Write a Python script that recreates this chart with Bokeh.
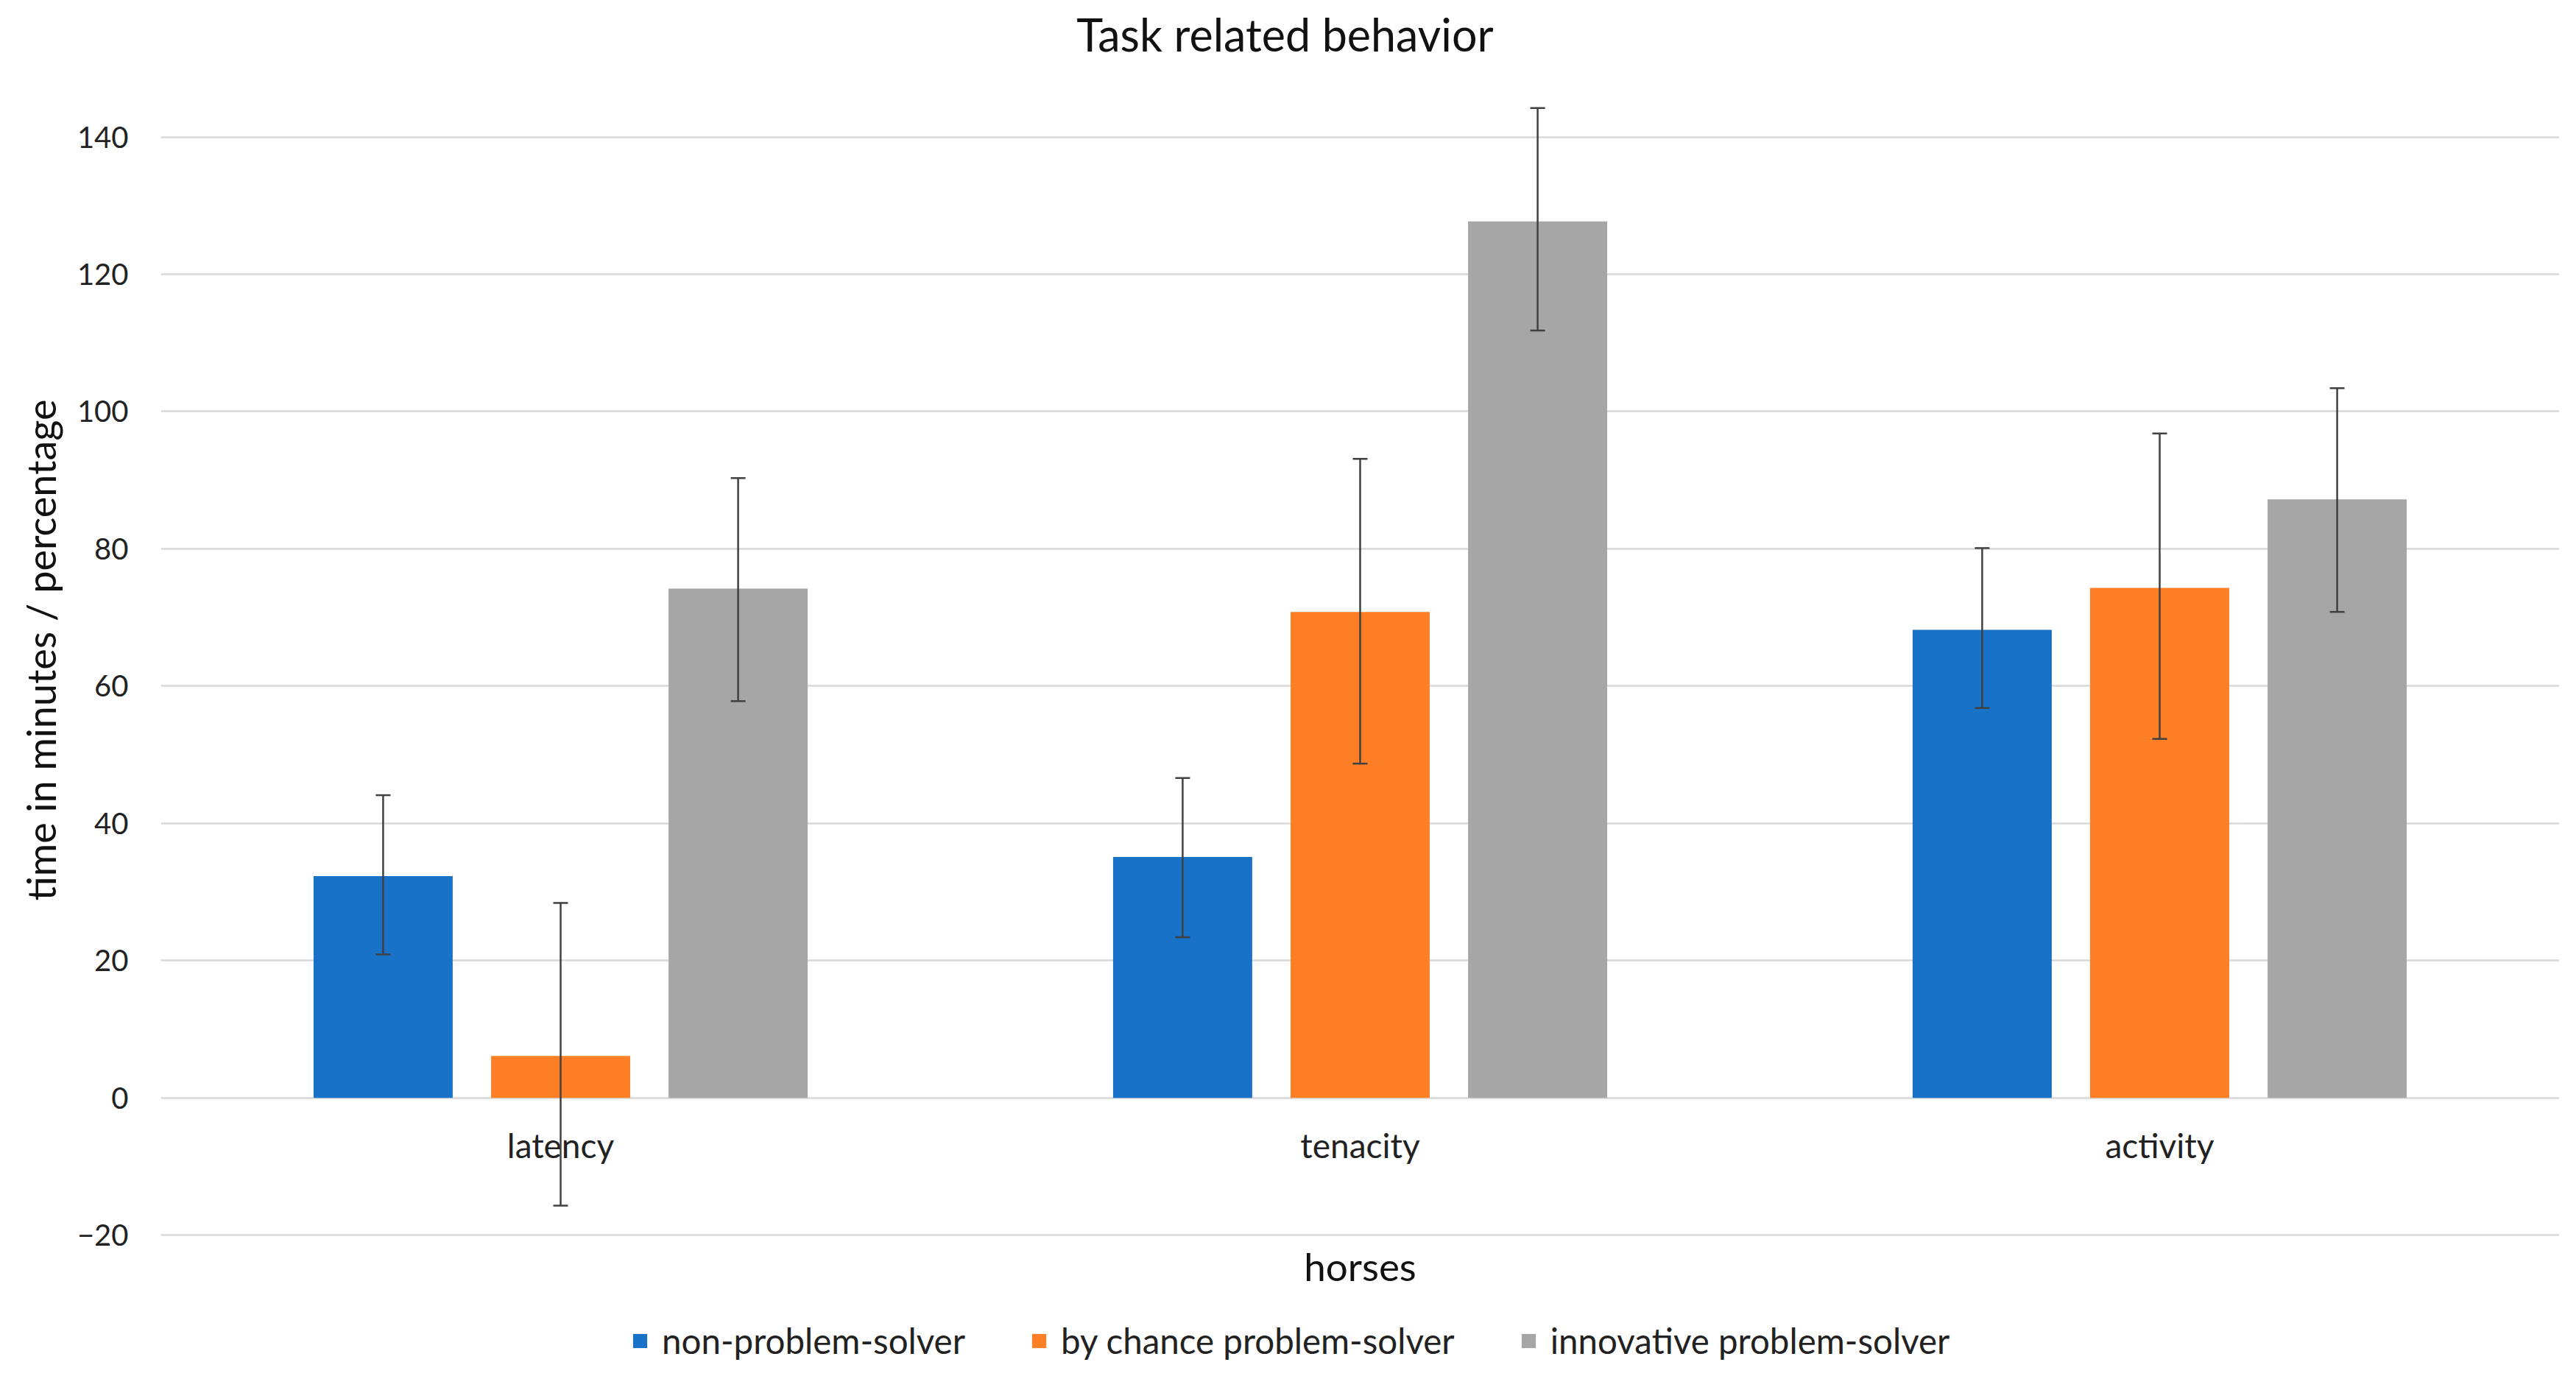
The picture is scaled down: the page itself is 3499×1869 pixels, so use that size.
from bokeh.plotting import figure
from bokeh.models import (FactorRange, ColumnDataSource, Whisker, TeeHead, FixedTicker,
                          Legend, LegendItem, Label, Range1d, Title)
from bokeh.transform import dodge
from bokeh.embed import file_html
from bokeh.resources import INLINE

# ---------------- data ----------------
categories = ["latency", "tenacity", "activity"]
series_names = ["non-problem-solver", "by chance problem-solver", "innovative problem-solver"]

non_solver = [32.3, 35.1, 68.2]
non_solver_lo = [20.9, 23.4, 56.8]
non_solver_hi = [44.1, 46.6, 80.1]

by_chance = [6.1, 70.8, 74.3]
by_chance_lo = [-15.7, 48.7, 52.3]
by_chance_hi = [28.4, 93.1, 96.8]

innovative = [74.2, 127.7, 87.2]
innovative_lo = [57.8, 111.8, 70.8]
innovative_hi = [90.3, 144.2, 103.4]

y_ticks = [-20, 0, 20, 40, 60, 80, 100, 120, 140]

title_text = "Task related behavior"
x_title = "horses"
y_title = "time in minutes / percentage"

# ---------------- style ----------------
FONT = "Lato"
colors = ["#1872C8", "#FF7F27", "#A6A6A6"]
offsets = [-0.222, 0.0, 0.222]
BAR_W = 0.174

p = figure(width=3483, height=1853, title=None,
           x_range=FactorRange(*categories), y_range=Range1d(-38.86, 159.9),
           output_backend="svg", toolbar_location=None,
           min_border_left=218, min_border_right=7, min_border_top=0, min_border_bottom=0)
p.outline_line_color = None
p.background_fill_color = "white"

series = [
    (non_solver, non_solver_lo, non_solver_hi),
    (by_chance, by_chance_lo, by_chance_hi),
    (innovative, innovative_lo, innovative_hi),
]

items = []
sources = []
for i, (vals, lo, hi) in enumerate(series):
    src = ColumnDataSource(dict(cat=categories, val=vals, lo=lo, hi=hi))
    sources.append(src)
    r = p.vbar(x=dodge("cat", offsets[i], range=p.x_range), top="val", width=BAR_W,
               source=src, fill_color=colors[i], line_color=None)
    items.append(LegendItem(label=series_names[i], renderers=[r]))

for i, src in enumerate(sources):
    w = Whisker(source=src, base=dodge("cat", offsets[i], range=p.x_range),
                upper="hi", lower="lo", line_color="#404040", line_width=2.5,
                level="overlay",
                upper_head=TeeHead(size=20, line_color="#404040", line_width=2.5),
                lower_head=TeeHead(size=20, line_color="#404040", line_width=2.5))
    p.add_layout(w)

# grid
p.xgrid.visible = False
p.ygrid.ticker = FixedTicker(ticks=y_ticks)
p.ygrid.grid_line_color = "#D9D9D9"
p.ygrid.grid_line_width = 2.5

# y axis
p.yaxis.ticker = FixedTicker(ticks=y_ticks)
p.yaxis.axis_line_color = None
p.yaxis.major_tick_line_color = None
p.yaxis.minor_tick_line_color = None
p.yaxis.major_label_text_font = FONT
p.yaxis.major_label_text_font_size = "40px"
p.yaxis.major_label_text_color = "#222222"
p.yaxis.major_label_standoff = 38

# y-axis title, placed in the left panel
ytitle = Title(text=y_title, align="left", offset=630, standoff=28,
               text_font=FONT, text_font_size="54px", text_font_style="normal",
               text_color="#111111")
p.add_layout(ytitle, "left")

# x axis (category labels sit just below the zero line)
p.xaxis.fixed_location = 0
p.xaxis.axis_line_color = None
p.xaxis.major_tick_line_color = None
p.xaxis.minor_tick_line_color = None
p.xaxis.major_label_text_font = FONT
p.xaxis.major_label_text_font_size = "46px"
p.xaxis.major_label_text_color = "#222222"
p.xaxis.major_label_standoff = 31

# title, x-axis title
p.add_layout(Label(x=1.406, y=155.0, text=title_text, text_align="center",
                   text_baseline="middle", text_font=FONT, text_font_size="61px",
                   text_color="#111111"))
p.add_layout(Label(x=1.5, y=-24.5, text=x_title, text_align="center",
                   text_baseline="middle", text_font=FONT, text_font_size="53px",
                   text_color="#111111"))

legend = Legend(items=items, orientation="horizontal", location=(639, 4),
                spacing=88, label_standoff=18, glyph_width=24, glyph_height=24,
                padding=0, margin=0, border_line_color=None, background_fill_alpha=0,
                label_text_font=FONT, label_text_font_size="47.5px",
                label_text_color="#222222")
p.add_layout(legend, "center")

open("out.html", "w").write(file_html(p, INLINE))
